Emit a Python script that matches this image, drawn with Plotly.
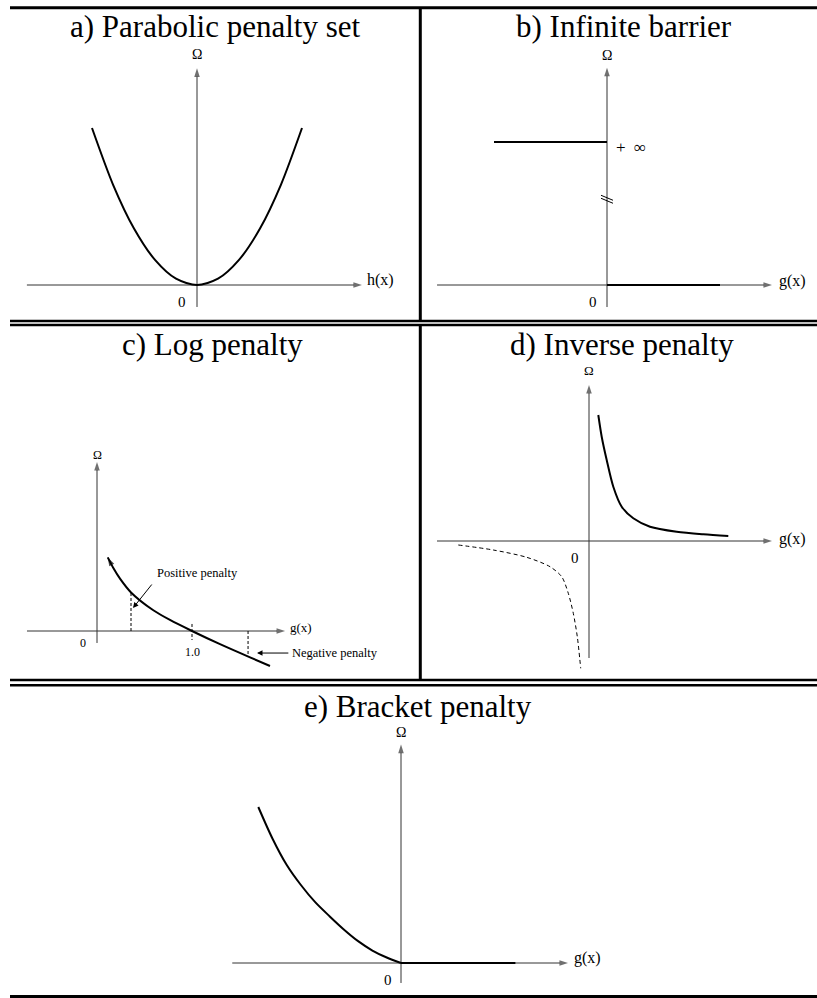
import plotly.graph_objects as go

W, H = 817, 998
SERIF = "Liberation Serif, Times New Roman, Times, serif"
AXIS_COLOR = "#333333"

# ---------------- data ----------------
# a) parabolic penalty set
parab_h = [-1.0, -0.8, -0.6, -0.4, -0.2, 0.0, 0.2, 0.4, 0.6, 0.8, 1.0]
parab_omega = [1.0, 0.64, 0.36, 0.16, 0.04, 0.0, 0.04, 0.16, 0.36, 0.64, 1.0]

# b) infinite barrier
barrier_g = [-1.0, 0.0]
barrier_omega = [1.0, 1.0]
feasible_g = [0.0, 1.0]
feasible_omega = [0.0, 0.0]
break_level = 0.61

# c) log penalty
log_g = [0.113, 0.172, 0.242, 0.358, 0.593, 0.768, 1.0, 1.295, 1.611, 1.821]
log_omega = [0.775, 0.663, 0.551, 0.406, 0.218, 0.116, 0.0, -0.139, -0.278, -0.368]
pos_mark_g, pos_mark_omega = 0.358, 0.40
neg_mark_g, neg_mark_omega = 1.59, -0.268
one_mark = [0.074, -0.095]

# d) inverse penalty
inv_g_pos = [0.186, 0.254, 0.354, 0.486, 0.654, 0.886, 1.22, 1.754, 2.286, 2.786]
inv_omega_pos = [2.52, 2.086, 1.62, 1.086, 0.686, 0.454, 0.286, 0.186, 0.134, 0.10]
inv_g_neg = [-2.614, -1.914, -1.246, -0.78, -0.546, -0.414, -0.314, -0.234, -0.166]
inv_omega_neg = [-0.08, -0.18, -0.326, -0.514, -0.714, -1.046, -1.446, -1.914, -2.546]

# e) bracket penalty
brk_g = [-0.998, -0.9, -0.8, -0.7, -0.6, -0.5, -0.4, -0.3, -0.2, -0.1, 0.0]
brk_omega = [1.0, 0.80, 0.63, 0.50, 0.39, 0.30, 0.215, 0.14, 0.08, 0.035, 0.0]
brk_flat_g = [0.0, 0.8]
brk_flat_omega = [0.0, 0.0]

titles = ["a) Parabolic penalty set", "b) Infinite barrier", "c) Log penalty",
          "d) Inverse penalty", "e) Bracket penalty"]

# ---------------- layout geometry (pixels) ----------------
PANELS = {
    1: dict(cell=(10, 9, 420, 320), origin=(197, 285), unit=(105, 157)),
    2: dict(cell=(421, 9, 817, 320), origin=(607, 285), unit=(113, 143)),
    3: dict(cell=(10, 326, 420, 678), origin=(97, 631), unit=(95, 95)),
    4: dict(cell=(421, 326, 817, 678), origin=(589, 541), unit=(50, 50)),
    5: dict(cell=(10, 687, 817, 995), origin=(401, 963), unit=(143, 156)),
}
# extents of the drawn coordinate axes, in data units
AXES = {
    1: dict(x=(-1.62, 1.571), y=(-0.14, 1.38)),
    2: dict(x=(-1.504, 1.46), y=(-0.154, 1.52)),
    3: dict(x=(-0.737, 1.98), y=(-0.126, 1.78)),
    4: dict(x=(-3.04, 3.66), y=(-2.34, 3.12)),
    5: dict(x=(-1.18, 1.168), y=(-0.128, 1.4)),
}
TITLE_POS = {1: (215, 27), 2: (624, 27), 3: (213, 345), 4: (622, 345), 5: (418, 706)}

fig = go.Figure()
layout_axes = {}
for i, p in PANELS.items():
    x0, y0, x1, y1 = p["cell"]
    ox, oy = p["origin"]
    ux, uy = p["unit"]
    s = "" if i == 1 else str(i)
    layout_axes["xaxis" + s] = dict(domain=[x0 / W, x1 / W], range=[(x0 - ox) / ux, (x1 - ox) / ux],
                                    visible=False, anchor="y" + s, fixedrange=True)
    layout_axes["yaxis" + s] = dict(domain=[1 - y1 / H, 1 - y0 / H], range=[(oy - y1) / uy, (oy - y0) / uy],
                                    visible=False, anchor="x" + s, fixedrange=True)


def refs(i):
    s = "" if i == 1 else str(i)
    return "x" + s, "y" + s


def add_line(i, xs, ys, width=2.0, color="black", dash=None, shape="linear"):
    xr, yr = refs(i)
    fig.add_trace(go.Scatter(x=xs, y=ys, xaxis=xr, yaxis=yr, mode="lines",
                             line=dict(color=color, width=width, dash=dash, shape=shape, smoothing=0.8),
                             hoverinfo="skip", showlegend=False))


def add_arrow_line(i, xs, ys, width=1.0, color=AXIS_COLOR, size=9):
    xr, yr = refs(i)
    fig.add_trace(go.Scatter(x=xs, y=ys, xaxis=xr, yaxis=yr, mode="lines+markers",
                             line=dict(color=color, width=width),
                             marker=dict(symbol="arrow", size=[0] * (len(xs) - 1) + [size],
                                         angleref="previous", color=color, line=dict(width=0)),
                             hoverinfo="skip", showlegend=False))


annotations = []


def label(i, x, y, text, size, xanchor="center", yanchor="middle"):
    xr, yr = refs(i)
    annotations.append(dict(x=x, y=y, xref=xr, yref=yr, text=text, showarrow=False,
                            xanchor=xanchor, yanchor=yanchor,
                            font=dict(family=SERIF, size=size, color="black")))


def pointer(i, tip, tail):
    xr, yr = refs(i)
    annotations.append(dict(x=tip[0], y=tip[1], ax=tail[0], ay=tail[1], xref=xr, yref=yr,
                            axref=xr, ayref=yr, text="", showarrow=True, arrowhead=2,
                            arrowsize=1.1, arrowwidth=1, arrowcolor="black"))


# coordinate axes with arrow tips
for i, a in AXES.items():
    add_arrow_line(i, list(a["x"]), [0, 0])
    add_arrow_line(i, [0, 0], list(a["y"]))

# a) parabola
add_line(1, parab_h, parab_omega, shape="spline")
label(1, 0, 1.465, "Ω", 14)
label(1, -0.143, -0.108, "0", 15)
label(1, 1.6, 0.03, "h(x)", 16, xanchor="left")

# b) infinite barrier
add_line(2, barrier_g, barrier_omega)
add_line(2, feasible_g, feasible_omega)
u2x, u2y = PANELS[2]["unit"]
dx, dy, sep = 6 / u2x, 2.5 / u2y, 3 / u2y
add_line(2, [-dx, dx, None, -dx, dx],
         [break_level + dy, break_level - dy, None, break_level + dy - sep, break_level - dy - sep],
         width=1, color="black")
label(2, 0, 1.608, "Ω", 14)
label(2, -0.124, -0.119, "0", 15)
label(2, 1.504, 0.03, "g(x)", 16, xanchor="left")
label(2, 0.065, 0.965, "+  ∞", 17, xanchor="left")

# c) log penalty
add_line(3, log_g, log_omega, shape="spline")
add_arrow_line(3, [log_g[1], log_g[0]], [log_omega[1], log_omega[0]], width=0.1, color="black", size=9)
add_line(3, [pos_mark_g, pos_mark_g], [0, pos_mark_omega], width=1, dash="3px,2px")
add_line(3, [1.0, 1.0], one_mark, width=1, dash="3px,2px")
add_line(3, [neg_mark_g, neg_mark_g], [0, neg_mark_omega], width=1, dash="3px,2px")
pointer(3, (0.379, 0.242), (0.589, 0.505))
pointer(3, (1.684, -0.232), (2.03, -0.232))
label(3, 0, 1.853, "Ω", 12)
label(3, -0.147, -0.126, "0", 12)
label(3, 1.0, -0.221, "1.0", 12)
label(3, 2.01, 0.035, "g(x)", 13, xanchor="left")
label(3, 1.056, 0.61, "Positive penalty", 12.5)
label(3, 2.03, -0.232, "Negative penalty", 12.5, xanchor="left")

# d) inverse penalty
add_line(4, inv_g_pos, inv_omega_pos, shape="spline")
add_line(4, inv_g_neg, inv_omega_neg, width=1, dash="4px,3px", shape="spline")
label(4, 0, 3.42, "Ω", 13)
label(4, -0.28, -0.34, "0", 15)
label(4, 3.76, 0.05, "g(x)", 16, xanchor="left")

# e) bracket penalty
add_line(5, brk_g, brk_omega, shape="spline")
add_line(5, brk_flat_g, brk_flat_omega)
label(5, 0, 1.48, "Ω", 14)
label(5, -0.09, -0.11, "0", 15)
label(5, 1.196, 0.03, "g(x)", 16, xanchor="left")

# panel titles
for i, t in enumerate(titles, start=1):
    px, py = TITLE_POS[i]
    annotations.append(dict(x=px / W, y=1 - py / H, xref="paper", yref="paper", text=t,
                            showarrow=False, xanchor="center", yanchor="middle",
                            font=dict(family=SERIF, size=31, color="black")))

# table rules
shapes = []


def hrule(y, width, x0=10, x1=817):
    shapes.append(dict(type="line", xref="paper", yref="paper", x0=x0 / W, x1=x1 / W,
                       y0=1 - y / H, y1=1 - y / H, line=dict(color="black", width=width)))


def vrule(x, y0, y1, width):
    shapes.append(dict(type="line", xref="paper", yref="paper", x0=x / W, x1=x / W,
                       y0=1 - y0 / H, y1=1 - y1 / H, line=dict(color="black", width=width)))


hrule(7.7, 3)
hrule(321, 2.5)
hrule(325, 2.5)
hrule(680, 2.5)
hrule(685.2, 2.5)
hrule(996.5, 3)
vrule(420.3, 7.7, 321, 3)
vrule(420.3, 325, 680, 3)

fig.update_layout(width=W, height=H, margin=dict(l=0, r=0, t=0, b=0),
                  paper_bgcolor="white", plot_bgcolor="white",
                  font=dict(family=SERIF),
                  showlegend=False, annotations=annotations, shapes=shapes, **layout_axes)

fig.write_html("out.html")
